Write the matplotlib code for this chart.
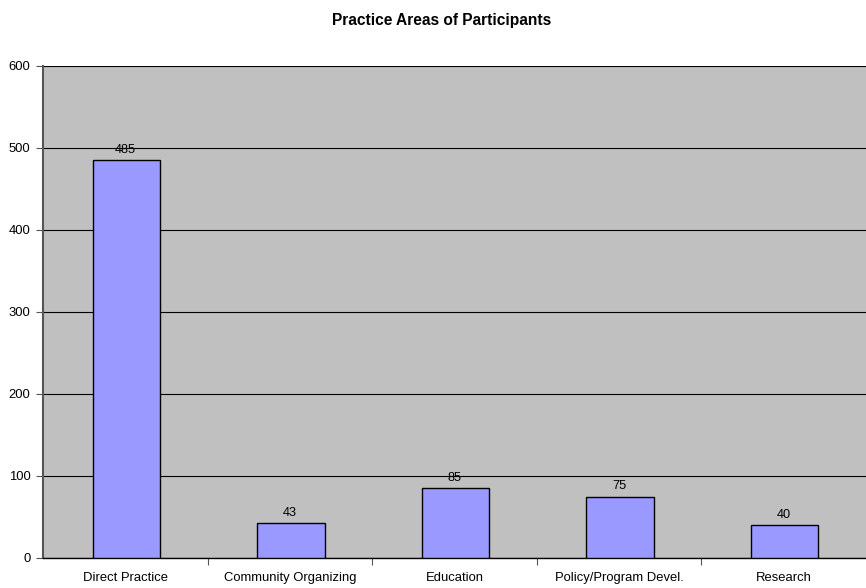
import matplotlib
matplotlib.use("Agg")
import matplotlib.pyplot as plt
import numpy as np

plt.rcParams['font.family'] = ['Liberation Sans', 'DejaVu Sans']

categories = ["Direct Practice", "Community Organizing", "Education",
              "Policy/Program Devel.", "Research"]
counts = [485, 43, 85, 75, 40]
y_ticks = [0, 100, 200, 300, 400, 500, 600]

fig = plt.figure(figsize=(8.66, 5.88), dpi=100)
ax = fig.add_axes([43 / 866, 1 - 558 / 588, 1 - 43 / 866, (558 - 66) / 588])
ax.set_facecolor("#C0C0C0")

x = np.arange(len(categories))
ax.bar(x + 0.006, counts, width=0.41, color="#9999FF", edgecolor="black", linewidth=1.0, zorder=3)
for xi, v in zip(x, counts):
    ax.text(xi, v + 5, str(v), ha="center", va="bottom", fontsize=9.2, zorder=4)

ax.set_xlim(-0.5, len(categories) - 0.5)
ax.set_ylim(0, 600)
ax.set_yticks(y_ticks)
ax.set_yticklabels([str(t) for t in y_ticks], fontsize=9.4)
ax.yaxis.grid(True, color="black", linewidth=0.8, zorder=1)
ax.set_axisbelow(True)

ax.set_xticks(x)
ax.set_xticklabels(categories, fontsize=9.4)
ax.tick_params(axis="x", length=0, pad=10)
ax.set_xticks(np.arange(1, len(categories)) - 0.5, minor=True)
ax.tick_params(axis="x", which="minor", length=5, width=0.8, color="#555555")
ax.tick_params(axis="y", length=5, width=0.8, color="#555555", pad=4)

for side in ["top", "right"]:
    ax.spines[side].set_visible(False)
ax.spines["left"].set_color("#555555")
ax.spines["left"].set_linewidth(1.5)
ax.spines["bottom"].set_color("black")
ax.spines["bottom"].set_linewidth(1.0)

fig.text(442 / 866, 1 - 20 / 588, "Practice Areas of Participants", ha="center", va="center",
         fontsize=11.2, fontweight="bold")

fig.savefig("out.png", dpi=100, facecolor="white")
